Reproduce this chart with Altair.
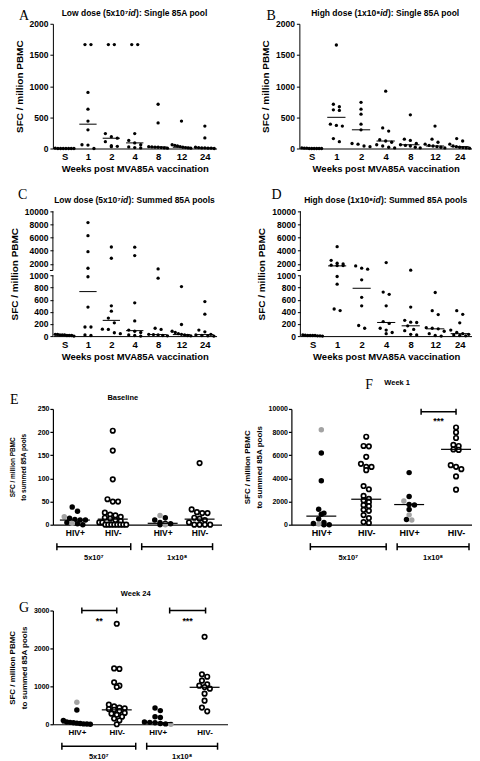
import altair as alt
import pandas as pd

FONT = "Liberation Sans"
SERIF = "Liberation Serif"

# ---------------- Panels A-D : ELISpot response by week ----------------
weeks = ["S", "1", "2", "4", "8", "12", "24"]

A_values = [
    [0, 0, 0, 0, 0, 0, 0, 5],
    [1667, 1667, 900, 630, 440, 300, 60, 55, 0],
    [1667, 1667, 240, 190, 165, 110, 45, 35, 30],
    [1667, 1667, 240, 130, 90, 60, 25, 15, 10],
    [710, 410, 30, 25, 22, 20, 15, 10, 5],
    [440, 60, 50, 40, 30, 20, 15, 10, 5],
    [360, 170, 20, 15, 10, 10, 5, 5, 0],
]
A_medians = [0, 390, 165, 90, 25, 20, 10]

B_values = [
    [0, 0, 0, 0, 5, 0, 10, 0, 5],
    [1660, 710, 670, 620, 610, 390, 370, 360, 160, 110],
    [740, 630, 550, 390, 300, 80, 70, 40, 30],
    [920, 330, 280, 140, 120, 100, 60, 40, 20, 10],
    [540, 150, 130, 80, 60, 50, 40, 20, 10],
    [360, 150, 100, 70, 50, 40, 30, 20, 10],
    [160, 120, 70, 40, 30, 20, 15, 10, 5],
]
B_medians = [0, 500, 300, 120, 60, 40, 30]

C_values = [
    [20, 10, 30, 20, 10, 20, 30, 10, 0],
    [8300, 6300, 3870, 1340, 980, 480, 150, 150, 20, 10],
    [4580, 2860, 500, 412, 297, 220, 115, 110, 55, 40],
    [4550, 3270, 550, 250, 100, 80, 60, 20, 10, 0],
    [1240, 956, 130, 110, 30, 25, 20, 10, 5],
    [818, 192, 80, 60, 40, 30, 20, 10, 5],
    [570, 362, 100, 70, 30, 20, 10, 5, 0],
]
C_medians = [15, 735, 260, 90, 25, 25, 25]

D_values = [
    [10, 5, 10, 20, 0, 10, 15, 5, 10],
    [4630, 2540, 2100, 2000, 1800, 1750, 1750, 984, 858, 448, 421],
    [1700, 1350, 1200, 930, 640, 500, 175, 130],
    [2200, 727, 690, 500, 240, 210, 130, 100, 60, 40],
    [1050, 480, 260, 230, 225, 170, 110, 90, 30, 20],
    [720, 420, 355, 140, 130, 120, 80, 40, 10, 0],
    [420, 360, 220, 100, 60, 40, 30, 20, 10, 5],
]
D_medians = [5, 1700, 790, 225, 170, 120, 40]

# ---------------- Panels E-G : HIV+ / HIV- by dose ----------------
groups = ["HIV+", "HIV-", "HIV+", "HIV-"]
doses = ["5x10⁷", "1x10⁸"]

E_black = [[38, 29, 14, 11, 10, 10, 5, 2, 0], [], [15, 10, 5, 3, 2, 0], []]
E_grey = [[17, 3], [], [20, 0], []]
E_open = [[], [203, 160, 98, 55, 50, 50, 26, 22, 20, 17, 15, 13, 10, 8, 5, 5, 0, 0, 0, 0, 0, 0, 0, 0],
          [], [133, 33, 27, 25, 25, 15, 13, 10, 5, 0, 0, 0, 0]]
E_medians = [10, 12, 3, 12]

F_black = [[6200, 3800, 1340, 1000, 900, 500, 200, 100, 0, 0], [], [4500, 2430, 1750, 1700, 1310, 450], []]
F_grey = [[8200, 50], [], [2050, 850, 400], []]
F_open = [[], [7600, 6800, 6770, 5860, 5260, 5000, 4990, 4710, 3340, 3060, 2490, 2230, 2100, 1950,
               1690, 1600, 1290, 1200, 830, 570, 230, 150],
          [], [8400, 7970, 7490, 6890, 6800, 6500, 6460, 5140, 5000, 4800, 4170, 3030]]
F_medians = [740, 2200, 1740, 6510]

G_black = [[377, 100, 60, 50, 40, 30, 20, 10, 5, 0], [], [430, 360, 200, 180, 60, 50, 40, 20, 10], []]
G_grey = [[579], [], [0], []]
G_open = [[], [2650, 1474, 1460, 1105, 1018, 982, 518, 470, 440, 420, 400, 380, 350, 300, 280, 250,
               200, 150, 100, 0],
          [], [2307, 1316, 1254, 1149, 1053, 1018, 980, 939, 807, 623, 439, 342]]
G_medians = [35, 380, 44, 975]

# ---------------- helpers ----------------
AW = {'L': .611, 'o': .611, 'w': .778, ' ': .278, 'd': .611, 's': .556, 'e': .556, '(': .333,
      ')': .333, '5': .556, 'x': .556, '1': .556, '0': .556, '8': .556, 'H': .722, 'i': .278,
      'g': .611, 'h': .611, ':': .333, 'S': .667, 'n': .611, 'l': .278, 'A': .722, 'p': .611,
      'u': .611, 'm': .889, '⁷': .36, '⁸': .36}


def twidth(s, fs):
    return sum(AW.get(c, .556) for c in s) * fs


def swarm(ypx, d, maxw):
    idx = sorted(range(len(ypx)), key=lambda i: -ypx[i])
    rows = []
    for i in idx:
        if rows and rows[-1][0] - ypx[i] < d * 0.8:
            rows[-1][1].append(i)
        else:
            rows.append([ypx[i], [i]])
    offs = [0.0] * len(ypx)
    for _, mem in rows:
        n = len(mem)
        sp = d if (n - 1) * d <= maxw else maxw / max(n - 1, 1)
        for j, i in enumerate(mem):
            offs[i] = (j - (n - 1) / 2.0) * sp
    return offs


def brk(v):
    return v if v <= 1000 else 1084 + (v - 1000) * 0.1084


BRK_EXPR = "datum.v <= 1000 ? datum.v : 1084 + (datum.v - 1000) * 0.1084"


def txt(text, x, y, size, font=FONT, weight="bold", align="center", style="normal", baseline="middle"):
    return alt.Chart(pd.DataFrame({"t": [text]})).mark_text(
        font=font, fontSize=size, fontWeight=weight, fontStyle=style, align=align,
        baseline=baseline, color="black").encode(text="t:N", x=alt.value(x), y=alt.value(y))


def anchor(top, bottom):
    # invisible layout anchor: fixes the row's outer bounds so rows line up with the reference
    return alt.Chart(pd.DataFrame({"a": [0]})).mark_rule(color="white", strokeWidth=1, opacity=0).encode(
        x=alt.value(-44.5), y=alt.value(top), y2=alt.value(bottom))


def italic_title(pre, post, W, y, fs):
    w_pre, w_id, w_post = twidth(pre, fs), 0.889 * fs, twidth(post, fs)
    x0 = W / 2.0 - (w_pre + w_id + w_post) / 2.0 + w_pre
    return [txt(pre, x0, y, fs, align="right"),
            txt("id", x0, y, fs, align="left", style="italic"),
            txt(post, x0 + w_id + 0.3, y, fs, align="left")]


def week_panel(values, medians, pre, post, letter, letter_xy, W, H, broken, anc=None):
    step = W / 7.0
    ymax = 2060 if broken else 2000
    f = brk if broken else (lambda v: v)
    rows = []
    for ci, col in enumerate(values):
        ypx = [f(v) * H / ymax for v in col]
        offs = swarm(ypx, 6.0, 0.8 * step)
        for v, o in zip(col, offs):
            rows.append({"x": ci + o / step, "v": v})
    pts = pd.DataFrame(rows)
    med = pd.DataFrame({"x": [i - 0.37 for i in range(7)], "x2": [i + 0.37 for i in range(7)],
                        "v": medians})
    expr = BRK_EXPR if broken else "datum.v"
    if broken:
        yvals = [0, 200, 400, 600, 800, 1000] + [brk(v) for v in (2000, 4000, 6000, 8000, 10000)]
        lab = "datum.value <= 1000 ? format(datum.value, 'd') : format(round((1000 + (datum.value - 1084) / 0.1084) / 1000) * 1000, 'd')"
    else:
        yvals = [0, 500, 1000, 1500, 2000]
        lab = "format(datum.value, 'd')"
    xenc = alt.X("x:Q", scale=alt.Scale(domain=[-0.5, 6.5], nice=False, zero=False),
                 axis=alt.Axis(values=list(range(7)), labelExpr="['S','1','2','4','8','12','24'][datum.value]",
                               title="Weeks post MVA85A vaccination", ticks=False, grid=False,
                               domainColor="black", domainWidth=1, labelFont=FONT, labelFontSize=9.5,
                               labelFontWeight="bold", labelColor="black", labelPadding=3,
                               labelOverlap=False, labelFlush=False, titleFont=FONT, titleFontSize=9.5,
                               titleFontWeight="bold", titleColor="black", titlePadding=3))
    yenc = alt.Y("y:Q", scale=alt.Scale(domain=[0, ymax], nice=False, zero=True),
                 axis=alt.Axis(values=yvals, labelExpr=lab, title="SFC / million PBMC", grid=False,
                               domain=not broken, domainColor="black", tickColor="black", tickSize=3,
                               labelFont=FONT, labelFontSize=8.5, labelFontWeight="bold",
                               labelColor="black", labelPadding=2, labelOverlap=False, labelFlush=False,
                               titleFont=FONT, titleFontSize=10, titleFontWeight="bold",
                               titleColor="black", titlePadding=5))
    layers = []
    if anc:
        layers.append(anchor(*anc))
    layers += [
        alt.Chart(pts).transform_calculate(y=expr).mark_circle(size=11, color="black", opacity=1)
        .encode(x=xenc, y=yenc),
        alt.Chart(med).transform_calculate(y=expr).mark_rule(color="black", strokeWidth=1)
        .encode(x=xenc, x2="x2:Q", y=yenc),
    ]
    if broken:
        seg = pd.DataFrame({"y": [0, 1084], "y2": [1000, 2060]})
        layers.append(alt.Chart(seg).mark_rule(color="black", strokeWidth=1)
                      .encode(x=alt.value(0), y=yenc, y2="y2:Q"))
        tk = pd.DataFrame({"y": [1084]})
        layers.append(alt.Chart(tk).mark_rule(color="black", strokeWidth=1)
                      .encode(x=alt.value(-3), x2=alt.value(0), y=yenc))
    layers += italic_title(pre, post, W, -11, 8.5)
    layers.append(txt(letter, letter_xy[0], letter_xy[1], 14, font=SERIF, weight="normal",
                      align="left", baseline="top"))
    return alt.layer(*layers).properties(width=W, height=H)


def group_panel(black, grey, opn, medians, cat_px, W, H, ymax, yticks, title, title_xy, letter,
                letter_xy, dose_br, sig_br, fs, anc=None):
    cap = 3.0 * ymax / H
    rows = {"black": [], "grey": [], "open": []}
    for ci in range(4):
        allv = [("black", v) for v in black[ci]] + [("grey", v) for v in grey[ci]] + \
               [("open", v) for v in opn[ci]]
        ypx = [v * H / ymax for _, v in allv]
        offs = swarm(ypx, 5.3, 27)
        for (k, v), o in zip(allv, offs):
            rows[k].append({"x": cat_px[ci] + o, "v": v})
    lab = " : ".join(f"datum.value == {p} ? '{g}'" for p, g in zip(cat_px, groups)) + " : ''"
    xscale = alt.Scale(domain=[0, W], nice=False, zero=False)
    xaxis = alt.Axis(values=cat_px, labelExpr=lab, title=None, ticks=False, grid=False,
                     domainColor="black", domainWidth=1.2, labelFont=FONT,
                     labelFontSize=fs["cat"], labelFontWeight="bold", labelColor="black",
                     labelPadding=4, labelOverlap=False, labelFlush=False)
    yscale = alt.Scale(domain=[0, ymax], nice=False, zero=True)
    yaxis = alt.Axis(values=yticks, format="d", title=["SFC / million PBMC", "to summed 85A pools"],
                     grid=False, domainColor="black", domainWidth=1.2, tickColor="black",
                     tickSize=3, tickWidth=1.2, labelFont=FONT, labelFontSize=fs["tick"],
                     labelFontWeight="bold", labelColor="black", labelPadding=1,
                     labelOverlap=False, labelFlush=False, titleFont=FONT,
                     titleFontSize=fs["ytitle"], titleFontWeight="bold", titleColor="black",
                     titlePadding=fs["tpad"], titleLineHeight=fs["lh"])

    def xq(fld):
        return alt.X(fld + ":Q", scale=xscale, axis=xaxis)

    def yq(fld):
        return alt.Y(fld + ":Q", scale=yscale, axis=yaxis)

    med = pd.DataFrame({"x": [p - 15 for p in cat_px], "x2": [p + 15 for p in cat_px], "v": medians})
    layers = []
    if anc:
        layers.append(anchor(*anc))
    layers += [
        alt.Chart(pd.DataFrame(rows["black"], columns=["x", "v"])).mark_circle(
            size=30, color="black", opacity=1).encode(x=xq("x"), y=yq("v")),
        alt.Chart(pd.DataFrame(rows["grey"], columns=["x", "v"])).mark_circle(
            size=30, color="#a3a3a3", opacity=1).encode(x=xq("x"), y=yq("v")),
        alt.Chart(pd.DataFrame(rows["open"], columns=["x", "v"])).mark_point(
            shape="circle", size=20, filled=True, fill="white", stroke="black", strokeWidth=1.7,
            opacity=1).encode(x=xq("x"), y=yq("v")),
        alt.Chart(med).mark_rule(color="black", strokeWidth=1.2).encode(x=xq("x"), x2="x2:Q", y=yq("v")),
    ]
    db = pd.DataFrame({"x": [a for a, b in dose_br], "x2": [b for a, b in dose_br],
                       "c": [(a + b) / 2 for a, b in dose_br], "lab": doses})
    layers += [
        alt.Chart(db).mark_rule(color="black", strokeWidth=1.5).encode(x=xq("x"), x2="x2:Q", y=alt.value(H + 22)),
        alt.Chart(db).mark_rule(color="black", strokeWidth=1.5).encode(x=xq("x"), y=alt.value(H + 18.5), y2=alt.value(H + 25.5)),
        alt.Chart(db).mark_rule(color="black", strokeWidth=1.5).encode(x=xq("x2"), y=alt.value(H + 18.5), y2=alt.value(H + 25.5)),
        alt.Chart(db).mark_text(font=FONT, fontSize=fs["dose"], fontWeight="bold", color="black",
                                baseline="middle").encode(x=xq("c"), y=alt.value(H + 33), text="lab:N"),
    ]
    if sig_br:
        sb = pd.DataFrame({"x": [s[0] for s in sig_br], "x2": [s[1] for s in sig_br],
                           "v": [s[2] for s in sig_br], "lo": [s[2] - cap for s in sig_br],
                           "hi": [s[2] + cap for s in sig_br], "c": [(s[0] + s[1]) / 2 for s in sig_br],
                           "ys": [s[3] for s in sig_br], "stars": [s[4] for s in sig_br]})
        layers += [
            alt.Chart(sb).mark_rule(color="black", strokeWidth=1.5).encode(x=xq("x"), x2="x2:Q", y=yq("v")),
            alt.Chart(sb).mark_rule(color="black", strokeWidth=1.5).encode(x=xq("x"), y=yq("lo"), y2="hi:Q"),
            alt.Chart(sb).mark_rule(color="black", strokeWidth=1.5).encode(x=xq("x2"), y=yq("lo"), y2="hi:Q"),
            alt.Chart(sb).mark_text(font=FONT, fontSize=9, fontWeight="bold", color="black",
                                    baseline="middle").encode(x=xq("c"), y=yq("ys"), text="stars:N"),
        ]
    layers.append(txt(title, title_xy[0], title_xy[1], fs["title"]))
    layers.append(txt(letter, letter_xy[0], letter_xy[1], 14, font=SERIF, weight="normal",
                      align="left", baseline="top"))
    return alt.layer(*layers).properties(width=W, height=H)


# ---------------- build panels ----------------
A = week_panel(A_values, A_medians, "Low dose (5x10⁷", "): Single 85A pool", "A", (-34, -15), 164, 125, False,
               anc=(-15, 161))
B = week_panel(B_values, B_medians, "High dose (1x10⁸", "): Single 85A pool", "B", (-33, -15), 173, 125, False)
C = week_panel(C_values, C_medians, "Low dose (5x10⁷", "): Summed 85A pools", "C", (-35, -23), 164, 125, True,
               anc=(-27, 159))
D = week_panel(D_values, D_medians, "High dose (1x10⁸", "): Summed 85A pools", "D", (-29, -23), 172, 125, True)

E = group_panel(E_black, E_grey, E_open, E_medians, [22, 60, 110, 147], 169, 116, 250,
                [0, 50, 100, 150, 200, 250], "Baseline", (70, -11), "E", (-43, -16),
                [(4, 78), (89, 160)], [],
                {"cat": 8.5, "tick": 7, "ytitle": 6.5, "tpad": 11, "lh": 11, "dose": 7.5, "title": 7.5},
                anc=(-39, 167))
F = group_panel(F_black, F_grey, F_open, F_medians, [30, 75, 118, 165], 181, 116, 10000,
                [0, 2000, 4000, 6000, 8000, 10000], "Week 1", (106, -26), "F", (74, -31),
                [(19, 95), (106, 178)], [(130, 165, 9750, 9000, "***")],
                {"cat": 9, "tick": 7, "ytitle": 8, "tpad": 4, "lh": 12.5, "dose": 7.5, "title": 7.5})
G = group_panel(G_black, G_grey, G_open, G_medians, [24, 64, 105, 152], 175, 114, 3000,
                [0, 1000, 2000, 3000], "Week 24", (83, -17), "G", (-34, -10),
                [(9, 83), (94, 165)], [(29, 64, 3000, 2720, "**"), (117, 153, 3000, 2720, "***")],
                {"cat": 8, "tick": 7, "ytitle": 8, "tpad": 4.5, "lh": 12.5, "dose": 7.5, "title": 7.5},
                anc=(-35, 150))

row1 = alt.hconcat(A, B, spacing=83, bounds="flush")
row2 = alt.hconcat(C, D, spacing=84, bounds="flush")
row3 = alt.hconcat(E, F, spacing=70, bounds="flush")

chart = alt.vconcat(row1, row2, row3, G, spacing=0).properties(
    padding={"left": 0, "top": 0, "right": 0, "bottom": 0}
).configure(background="white", padding=0).configure_view(stroke=None).configure_axis(labelOverlap=False)

chart.save("out.html", embed_options={"renderer": "svg", "actions": False})
